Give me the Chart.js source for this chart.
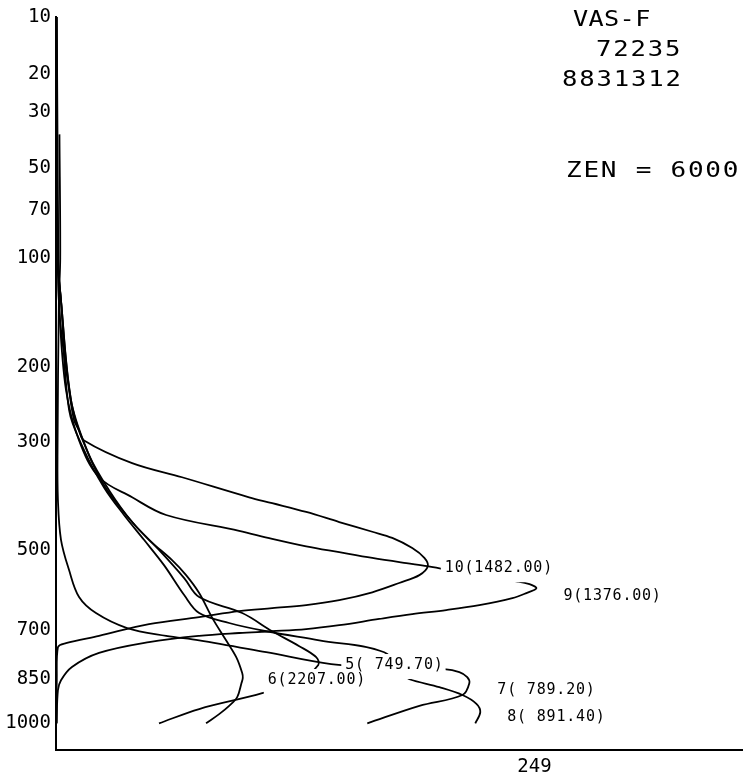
<!DOCTYPE html>
<html>
<head>
<meta charset="utf-8">
<script src="https://cdn.jsdelivr.net/npm/chart.js@4.4.1/dist/chart.umd.min.js"></script>
<style>
  html, body { margin: 0; padding: 0; background: #fff; }
  canvas { display: block; }
</style>
</head>
<body>
<canvas id="chart" width="744" height="783"></canvas>
<script>
// Weighting functions: pressure (hPa) and value, one pair per channel
const ch10Pres = [10, 40, 100, 137, 160, 227, 267, 282, 297, 333, 357, 393, 404, 421, 441, 461, 474, 496, 518, 537, 558, 577, 600, 620, 633, 641, 649, 665, 684, 717, 738, 750, 850, 1000];
const ch10Val  = [0.2, 0.5, 0.9, 1.6, 2.6, 6.8, 9.4, 12, 14.6, 39.6, 65.6, 100.5, 112.5, 130.2, 147.4, 164.6, 175, 185.4, 191.7, 193.5, 189.1, 178.6, 164.6, 147.4, 130.2, 112.5, 95.3, 74.5, 48.4, 22.4, 5.2, 1, 0.4, 0.3];

const ch9Pres = [10, 40, 100, 137, 227, 297, 357, 393, 427, 459, 476, 492, 505, 518, 530, 537, 555, 573, 580, 590, 602, 615, 633, 646, 657, 670, 687, 698, 704, 709, 717, 735, 767, 810, 852, 885, 1000];
const ch9Val  = [0.4, 0.8, 1.2, 1.6, 5.2, 12, 22.4, 39.6, 57.3, 95.3, 112.5, 130.2, 147.4, 164.6, 182.3, 193.2, 215.1, 239.6, 246.4, 250, 244.8, 237.5, 220.3, 203.1, 185.4, 168.2, 147.4, 130.2, 112.5, 95.3, 74.5, 48.4, 22.4, 8.3, 2.6, 1, 0.3];

const ch8Pres = [10, 40, 100, 133, 253, 312, 375, 427, 478, 535, 607, 654, 681, 704, 730, 765, 836, 849, 875, 901, 931, 960, 1000];
const ch8Val  = [0, 0.4, 0.7, 2.6, 6.8, 14.6, 25, 35.4, 45.8, 56.3, 66.7, 74.5, 90.1, 109.4, 137, 170.8, 181.3, 183.9, 199.5, 211.5, 218.8, 220.8, 218.2];

const ch7Pres = [37, 100, 133, 312, 398, 478, 546, 612, 654, 695, 717, 730, 765, 801, 814, 817, 826, 842, 862, 901, 938, 1000];
const ch7Val  = [1.8, 2.2, 1.5, 0.8, 1.0, 2.6, 6.8, 12, 20.8, 37, 57.3, 74.5, 109.4, 143.2, 178.6, 202, 209.9, 214, 215.1, 211.5, 189.1, 162];

const ch6Pres = [10, 40, 100, 133, 240, 312, 371, 427, 478, 523, 558, 602, 667, 730, 780, 829, 845, 862, 908, 938, 967, 1000];
const ch6Val  = [0.1, 0.3, 0.8, 2.6, 7.8, 16.1, 25, 36.5, 48.4, 60.4, 67.7, 74.5, 81.3, 88.5, 93.8, 96.9, 97.2, 96.5, 94.3, 90.1, 84.9, 78.1];

const ch5Pres = [10, 40, 100, 133, 247, 320, 380, 441, 500, 565, 612, 654, 704, 747, 780, 804, 852, 895, 949, 1000];
const ch5Val  = [0.3, 0.6, 1.0, 2.6, 8.3, 17.2, 27.6, 39.6, 53.6, 66.7, 74.5, 96.9, 112.5, 126.6, 135.4, 136.5, 126.6, 107.3, 74.5, 53.6];

const channelNames = ['10(1482.00)', '9(1376.00)', '8( 891.40)', '7( 789.20)', '6(2207.00)', '5( 749.70)'];
const pressureTicks = [10, 20, 30, 50, 70, 100, 200, 300, 500, 700, 850, 1000];
const valueTicks = [249];
const headerLines = ['VAS-F', '72235', '8831312', 'ZEN = 6000'];

// pressure axis is linear in p^(2/7)
const KAPPA = 2 / 7;

class KappaScale extends Chart.Scale {
    parse(raw, index) {
        const v = Chart.LinearScale.prototype.parse.apply(this, [raw, index]);
        return isFinite(v) && v > 0 ? v : null;
    }
    determineDataLimits() {
        this.min = this.options.min;
        this.max = this.options.max;
    }
    buildTicks() {
        return pressureTicks.map(v => ({ value: v }));
    }
    configure() {
        super.configure();
        this._start = Math.pow(this.min, KAPPA);
        this._range = Math.pow(this.max, KAPPA) - this._start;
    }
    getPixelForValue(value) {
        if (value === undefined || value === null) value = this.min;
        return this.getPixelForDecimal((Math.pow(value, KAPPA) - this._start) / this._range);
    }
    getValueForPixel(pixel) {
        const d = this.getDecimalForPixel(pixel);
        return Math.pow(this._start + d * this._range, 1 / KAPPA);
    }
}
KappaScale.id = 'kappa';
KappaScale.defaults = {};
Chart.register(KappaScale);

function makeSeries(pres, vals) {
    return pres.map((p, i) => ({ x: vals[i], y: p }));
}

const series = [
    makeSeries(ch10Pres, ch10Val),
    makeSeries(ch9Pres, ch9Val),
    makeSeries(ch8Pres, ch8Val),
    makeSeries(ch7Pres, ch7Val),
    makeSeries(ch6Pres, ch6Val),
    makeSeries(ch5Pres, ch5Val)
];

// label placement relative to each curve's peak, in pixels
const labelShift = [[17, 2], [27, 8], [27, 5], [28, 7], [25, 2], [27, 0]];

// wide plotter-like lettering: stretch glyphs sideways
function wideText(ctx, text, x, y, stretch) {
    ctx.save();
    ctx.translate(x, y);
    ctx.scale(stretch, 1);
    ctx.fillText(text, 0, 0);
    ctx.restore();
}

const labelPlugin = {
    id: 'channelLabels',
    afterDatasetsDraw(chart) {
        const { ctx, scales: { x, y } } = chart;
        ctx.save();
        ctx.font = '15px "DejaVu Sans Mono"';
        ctx.letterSpacing = '0.8px';
        ctx.textBaseline = 'middle';
        ctx.textAlign = 'left';
        const items = series.map((pts, i) => {
            let peak = pts[0];
            pts.forEach(pt => { if (pt.x > peak.x) peak = pt; });
            const tx = x.getPixelForValue(peak.x) + labelShift[i][0];
            const ty = y.getPixelForValue(peak.y) + labelShift[i][1];
            const w = ctx.measureText(channelNames[i]).width;
            return { tx, ty, w, text: channelNames[i] };
        });
        // white boxes first (they mask the curves, as on the plotter output)
        ctx.fillStyle = '#fff';
        items.forEach(it => ctx.fillRect(it.tx - 4, it.ty - 11, it.w + 6, 25));
        ctx.fillStyle = '#000';
        items.forEach(it => ctx.fillText(it.text, it.tx, it.ty));

        // header block, top right
        ctx.font = '21px "DejaVu Sans Mono"';
        ctx.letterSpacing = '0.3px';
        wideText(ctx, headerLines[0], 573, 21, 1.2);
        ctx.letterSpacing = '1.5px';
        wideText(ctx, headerLines[1], 596, 51, 1.22);
        wideText(ctx, headerLines[2], 562, 81, 1.22);
        ctx.letterSpacing = '1.4px';
        wideText(ctx, headerLines[3], 566, 172, 1.24);
        ctx.restore();
    }
};

const ctx = document.getElementById('chart').getContext('2d');
new Chart(ctx, {
    type: 'scatter',
    data: {
        datasets: series.map(pts => ({
            data: pts,
            showLine: true,
            borderColor: '#000',
            borderWidth: 1.8,
            pointRadius: 0,
            tension: 0.35,
            clip: 4
        }))
    },
    options: {
        responsive: false,
        animation: false,
        layout: { padding: { top: 17, right: 2, left: 0, bottom: 0 } },
        plugins: { legend: { display: false }, tooltip: { enabled: false } },
        scales: {
            x: {
                type: 'linear',
                min: 0,
                max: 357,
                afterBuildTicks: axis => { axis.ticks = valueTicks.map(v => ({ value: v })); },
                afterFit: axis => { axis.height = 33; },
                grid: { display: false, drawTicks: false },
                border: { display: true, color: '#000', width: 2 },
                ticks: {
                    padding: 6,
                    color: '#000',
                    font: { family: 'DejaVu Sans Mono', size: 19 },
                    callback: v => String(v)
                }
            },
            y: {
                type: 'kappa',
                min: 10,
                max: 1100,
                reverse: true,
                afterFit: axis => { axis.width = 56; },
                grid: { display: false, drawTicks: false },
                border: { display: true, color: '#000', width: 2 },
                ticks: {
                    padding: 5,
                    color: '#000',
                    font: { family: 'DejaVu Sans Mono', size: 19 },
                    callback: v => String(v)
                }
            }
        }
    },
    plugins: [labelPlugin]
});
</script>
</body>
</html>
